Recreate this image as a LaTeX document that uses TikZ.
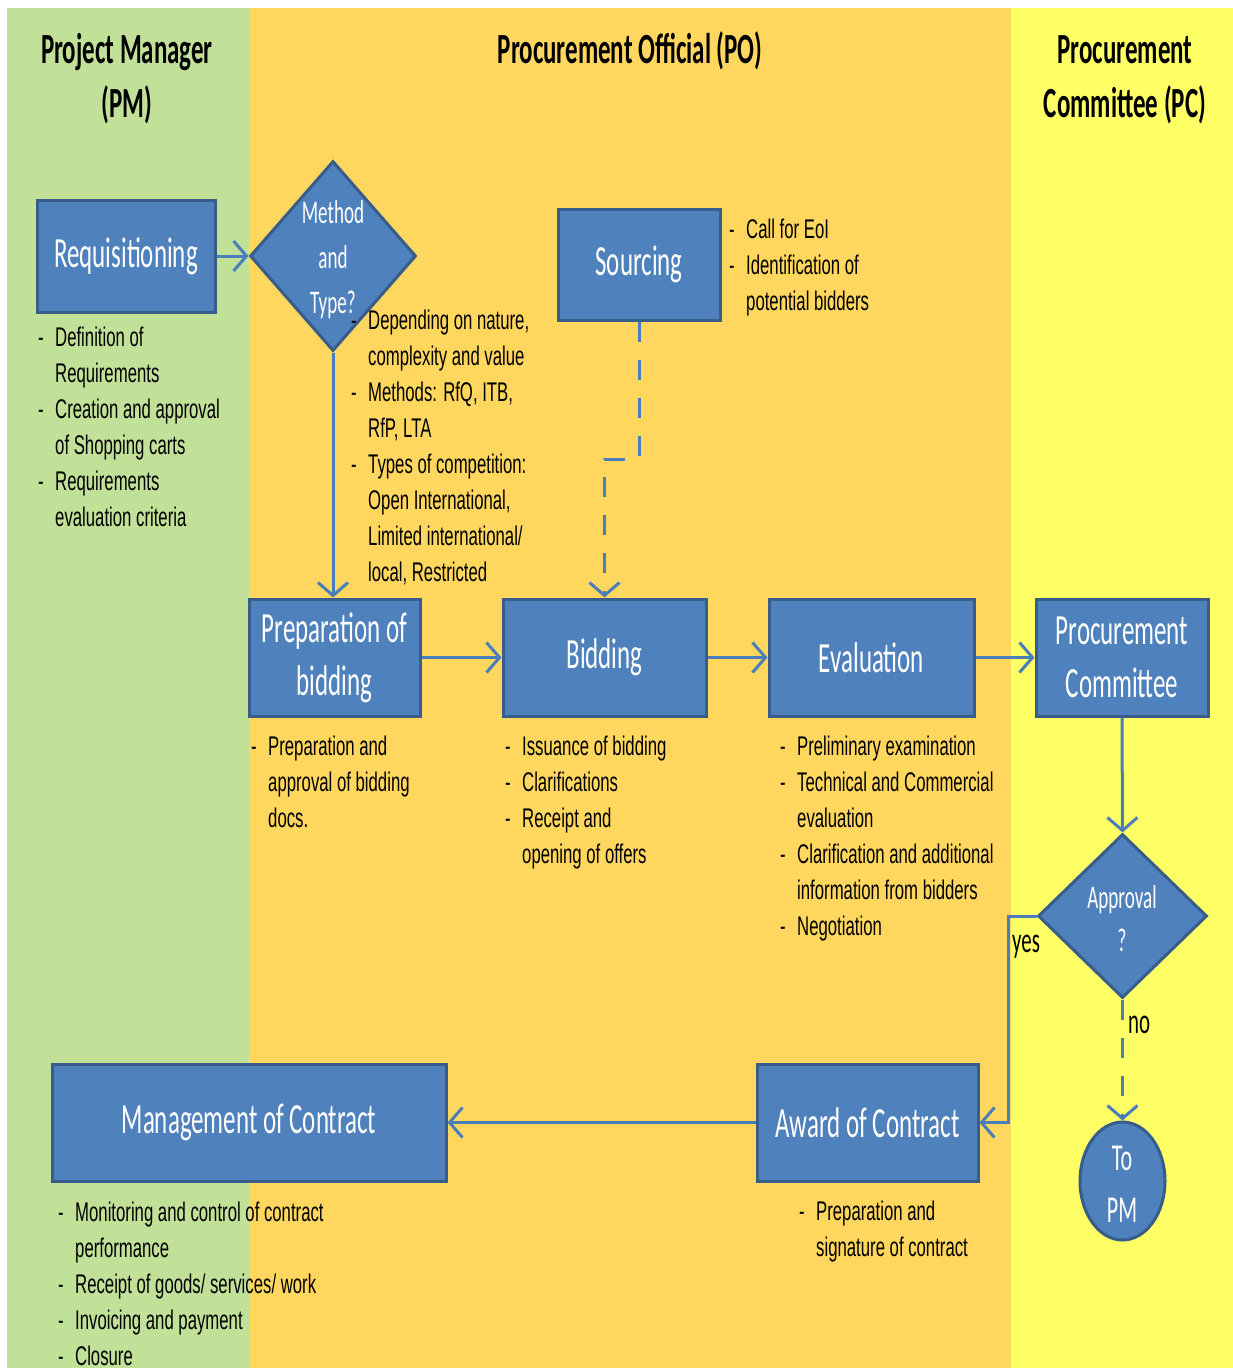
\documentclass[tikz,border=0pt]{standalone}
\usepackage{fontspec}
\usetikzlibrary{arrows.meta,shapes.geometric}
\newfontfamily\calf[FakeStretch=0.58]{Carlito}
\newfontfamily\arnf[FakeStretch=0.62]{Liberation Sans}
\definecolor{pmgreen}{RGB}{194,225,152}
\definecolor{poorange}{RGB}{255,215,94}
\definecolor{pcyellow}{RGB}{255,255,102}
\definecolor{boxblue}{RGB}{79,129,189}
\definecolor{boxedge}{RGB}{56,93,138}
\definecolor{linkblue}{RGB}{74,126,187}
\newcommand\fst{\rule{0pt}{22pt}}
\newcommand\dl{\makebox[17pt][l]{-}}
\newcommand\il{\hspace*{17pt}}
\begin{document}
\begin{tikzpicture}[x=1pt,y=-1pt,
  box/.style={draw=boxedge, line width=3pt, fill=boxblue, text=white,
    font=\calf\fontsize{43}{53}\selectfont, align=center, inner sep=0pt},
  dia/.style={diamond, draw=boxedge, line width=3pt, fill=boxblue, inner sep=0pt},
  ell/.style={ellipse, draw=boxedge, line width=3pt, fill=boxblue, inner sep=0pt},
  wtext/.style={text=white, align=center, inner sep=0pt},
  link/.style={draw=linkblue, line width=3pt, -{Straight Barb[length=13pt,width=30pt]}},
  dlink/.style={link, dash pattern=on 20pt off 18pt},
  desc/.style={font=\arnf\fontsize{27}{36}\selectfont, align=left, anchor=north west, inner sep=0pt, text=black},
  hdr/.style={font=\calf\bfseries\fontsize{43}{54}\selectfont, align=center, anchor=north, inner sep=0pt},
  yn/.style={font=\calf\fontsize{36}{40}\selectfont, anchor=base west, inner sep=0pt}
]
\useasboundingbox (0,0) rectangle (1233,1368);
\fill[white] (0,0) rectangle (1233,1368);
\fill[pmgreen] (7,8) rectangle (249,1368);
\fill[poorange] (249,8) rectangle (1011,1368);
\fill[pcyellow] (1011,8) rectangle (1233,1368);

% headers
\node[hdr] (hpm) at (127,27) {\rule{0pt}{36pt}Project Manager\\(PM)};
\node[hdr] (hpo) at (630,27) {\rule{0pt}{36pt}Procurement Official (PO)};
\node[hdr] (hpc) at (1125,27) {\rule{0pt}{36pt}Procurement\\Committee (PC)};

% boxes
\node[box, minimum width=178pt, minimum height=112pt] (req) at (126,256) {Requisitioning};
\node[dia, minimum width=166pt, minimum height=190pt] (mt) at (333,256) {};
\node[wtext, font=\calf\fontsize{33}{45}\selectfont] (mtl) at (333,260) {Method\\and\\Type?};
\node[box, minimum width=162pt, minimum height=111pt] (src) at (639,264.5) {Sourcing};
\node[box, minimum width=171pt, minimum height=117pt] (prep) at (334.5,657.5) {Preparation of\\bidding};
\node[box, minimum width=203pt, minimum height=117pt] (bid) at (604.5,657.5) {Bidding};
\node[box, minimum width=205pt, minimum height=117pt] (eval) at (871.5,657.5) {Evaluation};
\node[box, minimum width=172pt, minimum height=117pt] (pc) at (1122,657.5) {Procurement\\Committee};
\node[dia, minimum width=169pt, minimum height=164pt] (ap) at (1122.5,916) {};
\node[wtext, font=\calf\fontsize{33}{43}\selectfont] (apl) at (1122,919) {Approval\\?};
\node[ell, minimum width=85pt, minimum height=118pt] (topm) at (1122.5,1181) {};
\node[wtext, font=\calf\fontsize{38}{52}\selectfont] (topml) at (1122,1184) {To\\PM};
\node[box, minimum width=394pt, minimum height=117pt] (mg) at (249,1122.5) {Management of Contract};
\node[box, minimum width=221pt, minimum height=117pt] (aw) at (867.5,1122.5) {Award of Contract};

% connectors
\coordinate (sj) at (638,459);
\coordinate (yj) at (1008,916);
\draw[link] (req.east) -- (mt.west);
\draw[link] (mt.south) -- (mt.south |- prep.north);
\draw[dlink] (src.south) -- (src.south |- sj) -| (bid.north);
\draw[link] (prep.east) -- (bid.west);
\draw[link] (bid.east) -- (eval.west);
\draw[link] (eval.east) -- (pc.west);
\draw[link] (pc.south) -- (ap.north);
\draw[link] (ap.west) -- (yj) |- (aw.east);
\draw[dlink] (ap.south) -- (topm.north);
\draw[link] (aw.west) -- (mg.east);
\node[yn] (yes) at (1012,952) {yes};
\node[yn] (no) at (1128,1033) {no};

% descriptions
\node[desc] (reqd) at (38,324) {\fst\dl Definition of\\\il Requirements\\\dl Creation and approval\\\il of Shopping carts\\\dl Requirements\\\il evaluation criteria};
\node[desc] (mtd) at (351,307) {\fst\dl Depending on nature,\\\il complexity and value\\\dl Methods: RfQ, ITB,\\\il RfP, LTA\\\dl Types of competition:\\\il Open International,\\\il Limited international/\\\il local, Restricted};
\node[desc] (srcd) at (729,216) {\fst\dl Call for EoI\\\dl Identification of\\\il potential bidders};
\node[desc] (prepd) at (251,733) {\fst\dl Preparation and\\\il approval of bidding\\\il docs.};
\node[desc] (bidd) at (505,733) {\fst\dl Issuance of bidding\\\dl Clarifications\\\dl Receipt and\\\il opening of offers};
\node[desc] (evald) at (780,733) {\fst\dl Preliminary examination\\\dl Technical and Commercial\\\il evaluation\\\dl Clarification and additional\\\il information from bidders\\\dl Negotiation};
\node[desc] (mgd) at (58,1199) {\fst\dl Monitoring and control of contract\\\il performance\\\dl Receipt of goods/ services/ work\\\dl Invoicing and payment\\\dl Closure};
\node[desc] (awd) at (799,1198) {\fst\dl Preparation and\\\il signature of contract};
\end{tikzpicture}
\end{document}
